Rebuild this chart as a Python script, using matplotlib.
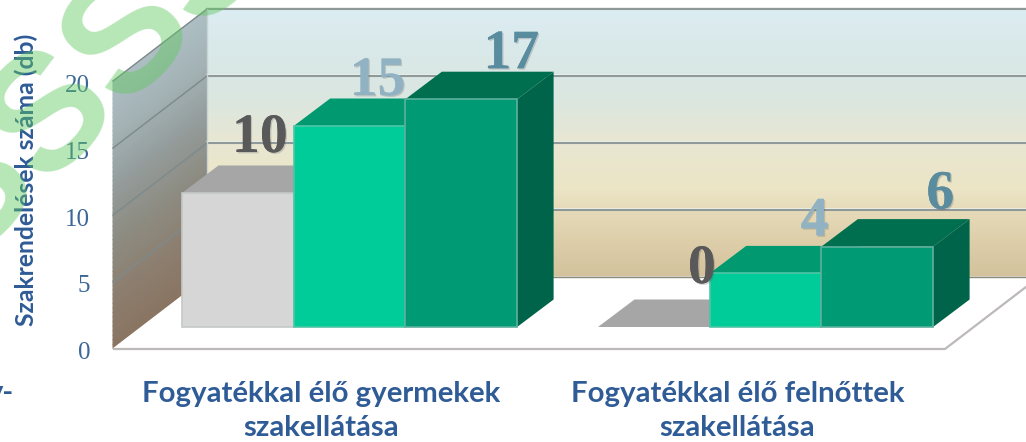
import numpy as np
import matplotlib
matplotlib.use('Agg')
import matplotlib.pyplot as plt
import matplotlib.patheffects as pe
from matplotlib.colors import LinearSegmentedColormap

W, H = 1026, 442

# data
categories = ['Fogyatékkal élő gyermekek\nszakellátása', 'Fogyatékkal élő felnőttek\nszakellátása']
series_a = [10, 0]
series_b = [15, 4]
series_c = [17, 6]
yticks = [0, 5, 10, 15, 20]
ylabel = 'Szakrendelések száma (db)'

# scale: one bar is 1 wide, y is in the chart's own units
PX_X = 111.7
PX_Y = 13.4
X0 = 182.0
Y0 = 327.0
DX = 36.5 / PX_X
DY = 27.5 / PX_Y
group_pos = [0.0, (598.0 - X0) / PX_X]

# walls and floor corners
FRONT_X = (113 - X0) / PX_X
BACK_X = (207 - X0) / PX_X
FRONT_Y = (Y0 - 349) / PX_Y
BACK_Y = (Y0 - 277) / PX_Y
FLOOR_R = (945 - X0) / PX_X
SHIFT_X = BACK_X - FRONT_X
SHIFT_Y = BACK_Y - FRONT_Y
XMAX = (W - X0) / PX_X

back_colors = ['#dcedf3', '#d9e8e8', '#dbe6e0', '#e8e7d2', '#ece5c6', '#e0d2ae', '#d3c29c']
side_colors = ['#aebfc4', '#a3b2b5', '#949c9b', '#8d8c82', '#8c7f70', '#8a7462']
cmap_back = LinearSegmentedColormap.from_list('back', back_colors[::-1])
cmap_side = LinearSegmentedColormap.from_list('side', side_colors[::-1])

BLUE = '#2f5b96'
TICK = '#3c6797'

fig = plt.figure(figsize=(W / 100, H / 100), dpi=100)
ax = fig.add_axes([0, 0, 1, 1])
ax.set_xlim(-X0 / PX_X, XMAX)
ax.set_ylim((Y0 - H) / PX_Y, Y0 / PX_Y)
ax.axis('off')

top = max(yticks)

# back wall
grad = np.linspace(0, 1, 200).reshape(-1, 1)
ax.imshow(grad, extent=[BACK_X, XMAX, BACK_Y, BACK_Y + top], origin='lower',
          aspect='auto', cmap=cmap_back, zorder=1)

# left wall, skewed gradient
t = np.linspace(0, 1, 60)
xx = np.array([[FRONT_X, BACK_X]] * len(t))
yy = np.column_stack([FRONT_Y + t * top, BACK_Y + t * top])
cc = np.column_stack([t, t])
ax.pcolormesh(xx, yy, cc, cmap=cmap_side, shading='gouraud', zorder=1)
ax.set_xlim(-X0 / PX_X, XMAX)
ax.set_ylim((Y0 - H) / PX_Y, Y0 / PX_Y)

# grid
for v in yticks:
    if v > 0:
        ax.plot([BACK_X, XMAX], [BACK_Y + v + 0.07] * 2, color='#eef2ee', lw=1.2, zorder=2)
        ax.plot([BACK_X, XMAX], [BACK_Y + v] * 2, color='#8f9a98', lw=1.5, zorder=2)
        ax.plot([FRONT_X, BACK_X], [FRONT_Y + v, BACK_Y + v], color='#7d8a8c', lw=1.0, zorder=2)
ax.plot([BACK_X, XMAX], [BACK_Y, BACK_Y], color='#8d8a78', lw=1.2, zorder=2)
ax.plot([BACK_X, BACK_X], [BACK_Y, BACK_Y + top], color='#c8d4d4', lw=1.0, zorder=2)

# floor
floor_x = [FRONT_X, FLOOR_R, FLOOR_R + SHIFT_X, BACK_X]
floor_y = [FRONT_Y, FRONT_Y, BACK_Y, BACK_Y]
ax.fill(floor_x, floor_y, color='white', zorder=2.5)
ax.plot(floor_x[:3], floor_y[:3], color='#bdb9b9', lw=1.6, zorder=2.6, solid_capstyle='butt')
ax.plot([BACK_X, XMAX], [BACK_Y, BACK_Y], color='#8d8a78', lw=1.0, zorder=2.6)


def bar3d(x, v, front, roof, side, edge, z):
    ax.fill([x + 1, x + 1 + DX, x + 1 + DX, x + 1], [0, DY, v + DY, v], color=side, lw=0, zorder=z)
    ax.fill([x, x + DX, x + 1 + DX, x + 1], [v, v + DY, v + DY, v], color=roof, lw=0, zorder=z)
    if v > 0:
        ax.fill([x, x + 1, x + 1, x], [0, 0, v, v], facecolor=front, edgecolor=edge, lw=1.2, zorder=z + 0.1)


for i, g in enumerate(group_pos):
    bar3d(g, series_a[i], '#d6d6d6', '#a6a6a6', '#a6a6a6', '#c4c8c6', 3 + i)
    bar3d(g + 1, series_b[i], '#00cc99', '#009970', '#009970', '#4fc6a6', 3.2 + i)
    bar3d(g + 2, series_c[i], '#009a75', '#006f50', '#00644a', '#5cb09c', 3.4 + i)

# data labels
label_cols = ['#595959', '#90b2c2', '#5a8c9f']
label_dx = [[22, 28, 50], [48, 49, 63]]
label_dy = [[55, 45, 45], [58, 52, 52]]
for i, g in enumerate(group_pos):
    vals = [series_a[i], series_b[i], series_c[i]]
    for j, v in enumerate(vals):
        ax.annotate(str(v), (g + j + 0.5, v), xytext=(label_dx[i][j], label_dy[i][j]),
                    textcoords='offset pixels', ha='center', va='center', fontsize=40,
                    fontweight='bold', family='Liberation Serif', color=label_cols[j], zorder=8,
                    path_effects=[pe.withSimplePatchShadow(offset=(1, -1), alpha=0.25, shadow_rgbFace='#555555'),
                                  pe.Normal()])

# axis text
for v in yticks:
    ax.text((90 - X0) / PX_X, FRONT_Y + (v * 13.35 - 4) / PX_Y, str(v), ha='right', va='center',
            fontsize=18, family='Liberation Serif', color=TICK, zorder=8)
fig.text(26 / W, 1 - 180 / H, ylabel, rotation=90, ha='center', va='center', fontsize=17.8,
         fontweight='bold', family='Lato', color=BLUE, zorder=8)
for g, name in zip(group_pos, categories):
    ax.text(g + 1.5 - 0.25, (Y0 - 411) / PX_Y, name, ha='center', va='center', fontsize=21.2,
            fontweight='bold', family='Lato', color=BLUE, linespacing=1.42, zorder=8)
fig.text(14 / W, 1 - 393 / H, 'y-', ha='right', va='center', fontsize=21, fontweight='bold',
         family='Lato', color=BLUE)

# watermark
fig.text(130 / W, 1 - 38 / H, 'SSSSSSS', rotation=45, rotation_mode='anchor', ha='center', va='center',
         fontsize=119, fontweight='bold', family='Liberation Sans', color='#5fc85f', alpha=0.45, zorder=20)

fig.savefig('out.png', dpi=100)
